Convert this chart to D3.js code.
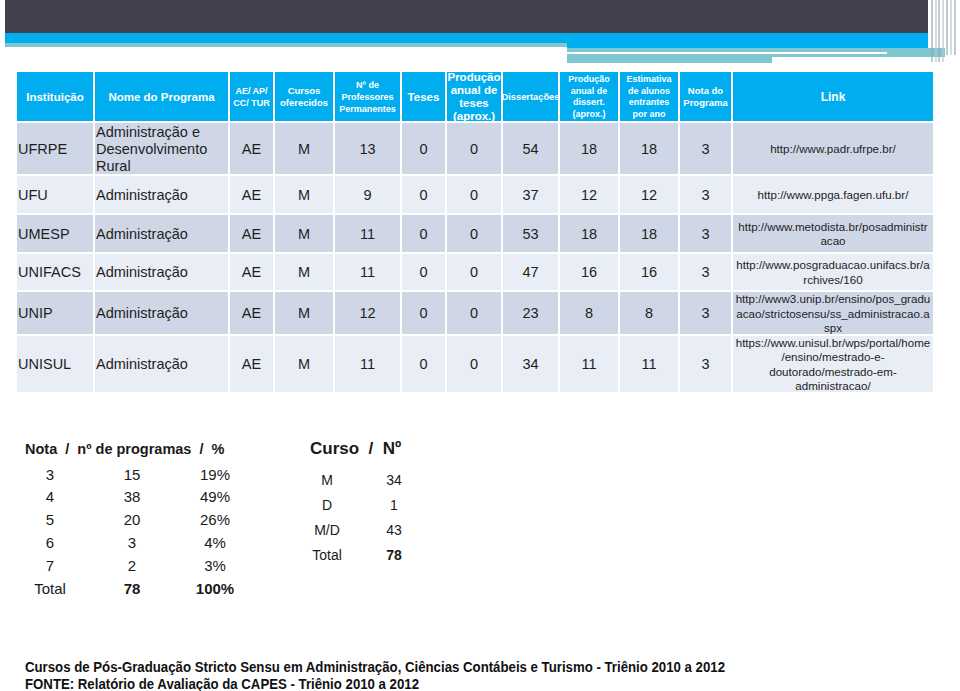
<!DOCTYPE html>
<html><head><meta charset="utf-8">
<script src="https://cdn.jsdelivr.net/npm/d3@7"></script>
<style>body{margin:0;background:#fff}svg{display:block;font-family:"Liberation Sans",Arial,Helvetica,sans-serif}</style>
</head><body><div id="chart"></div>
<script>
// ---------- data ----------
const instituicoes = ["UFRPE","UFU","UMESP","UNIFACS","UNIP","UNISUL"];
const programas = [["Administração e","Desenvolvimento","Rural"],["Administração"],["Administração"],["Administração"],["Administração"],["Administração"]];
const areas = ["AE","AE","AE","AE","AE","AE"];
const cursos = ["M","M","M","M","M","M"];
const professores = [13,9,11,11,12,11];
const teses = [0,0,0,0,0,0];
const prodTeses = [0,0,0,0,0,0];
const dissertacoes = [54,37,53,47,23,34];
const prodDissert = [18,12,18,16,8,11];
const alunosEntrantes = [18,12,18,16,8,11];
const notaPrograma = [3,3,3,3,3,3];
const links = [
  ["http://www.padr.ufrpe.br/"],
  ["http://www.ppga.fagen.ufu.br/"],
  ["http://www.metodista.br/posadministr","acao"],
  ["http://www.posgraduacao.unifacs.br/a","rchives/160"],
  ["http://www3.unip.br/ensino/pos_gradu","acao/strictosensu/ss_administracao.a","spx"],
  ["https://www.unisul.br/wps/portal/home","/ensino/mestrado-e-","doutorado/mestrado-em-","administracao/"]
];
const headers = [["Instituição"],["Nome do Programa"],["AE/ AP/","CC/ TUR"],["Cursos","oferecidos"],["Nº de","Professores","Permanentes"],["Teses"],["Produção","anual de","teses","(aprox.)"],["Dissertações"],["Produção","anual de","dissert.","(aprox.)"],["Estimativa","de alunos","entrantes","por ano"],["Nota do","Programa"],["Link"]];
const notas = ["3","4","5","6","7"];
const notaProgramas = ["15","38","20","3","2"];
const notaPct = ["19%","49%","26%","4%","3%"];
const notaTotalLabel = "Total";
const notaTotalProg = "78";
const notaTotalPct = "100%";
const cursoTipos = ["M","D","M/D"];
const cursoNum = ["34","1","43"];
const cursoTotalLabel = "Total";
const cursoTotal = "78";
const titleNota = "Nota  /  nº de programas  /  %";
const titleCurso = "Curso  /  Nº";
const footer = ["Cursos de Pós-Graduação Stricto Sensu em Administração, Ciências Contábeis e Turismo - Triênio 2010 a 2012",
                "FONTE: Relatório de Avaliação da CAPES - Triênio 2010 a 2012"];

// ---------- layout ----------
const W = 960, H = 691;
const svg = d3.select("#chart").append("svg").attr("width", W).attr("height", H);

// top decoration
const deco = svg.append("g");
deco.append("rect").attr("x",5).attr("y",0).attr("width",923).attr("height",33).attr("fill","#42424f");
deco.append("rect").attr("x",5).attr("y",33).attr("width",923).attr("height",10).attr("fill","#00aeef");
deco.append("rect").attr("x",567).attr("y",43).attr("width",361).attr("height",5).attr("fill","#00aeef");
deco.append("rect").attr("x",5).attr("y",43).attr("width",562).attr("height",4).attr("fill","#80c6d1");
deco.append("rect").attr("x",567).attr("y",48).attr("width",378).attr("height",9).attr("fill","#80c6d1");
deco.append("rect").attr("x",567).attr("y",52).attr("width",320).attr("height",2).attr("fill","#ffffff");
deco.append("rect").attr("x",567).attr("y",57).attr("width",205).attr("height",6).attr("fill","#80c6d1");
[931,935,938,942,946,950,954].forEach((x,i)=>{
  deco.append("rect").attr("x",x).attr("y",0).attr("width",2).attr("height",i<4?62:55)
    .attr("fill", i%2 ? "#b8c4cc" : "#9aa6b0").attr("opacity",0.6);
});

// table scales
const colEdges = [17,95,230,275,335,402,447,503,560,620,680,733,935];
const rowEdges = [72,123,176,215,254,292,336,394];
const xe = d3.scaleOrdinal(d3.range(colEdges.length), colEdges);
const ye = d3.scaleOrdinal(d3.range(rowEdges.length), rowEdges);
const nCols = colEdges.length - 1;
const nRows = rowEdges.length - 1;
const colX0 = c => xe(c), colW = c => xe(c+1) - xe(c) - 2, colCx = c => xe(c) + colW(c)/2;
const rowY0 = r => ye(r), rowH = r => ye(r+1) - ye(r) - 2, rowCy = r => ye(r) + rowH(r)/2;

const fillScale = d3.scaleOrdinal([0,1], ["#cfd7e7","#e9edf5"]);

// cells
const table = svg.append("g");
for (let r = 0; r < nRows; r++) {
  for (let c = 0; c < nCols; c++) {
    table.append("rect").attr("x", colX0(c)).attr("y", rowY0(r))
      .attr("width", colW(c)).attr("height", rowH(r))
      .attr("fill", r === 0 ? "#00aeef" : fillScale((r-1) % 2));
  }
}

// header text
const hStyle = [
  {fs:11.5, lh:13},{fs:11.5, lh:13},{fs:9, lh:12},{fs:9.5, lh:12},{fs:9, lh:12},{fs:11.5, lh:13},
  {fs:11.5, lh:13},{fs:9.3, lh:12},{fs:9, lh:11.6},{fs:9, lh:11.8},{fs:9.5, lh:12},{fs:12, lh:13}
];
const defs = svg.append("defs");
headers.forEach((lines, c) => {
  defs.append("clipPath").attr("id","hc"+c).append("rect")
    .attr("x", colX0(c)-4).attr("y", rowY0(0)).attr("width", colW(c)+8).attr("height", rowH(0));
  const cy = rowCy(0);
  const g = table.append("g").attr("clip-path","url(#hc"+c+")");
  lines.forEach((t, i) => {
    g.append("text").attr("x", colCx(c))
      .attr("y", cy + (i - (lines.length-1)/2) * hStyle[c].lh)
      .attr("text-anchor","middle").attr("dominant-baseline","central")
      .attr("font-size", hStyle[c].fs).attr("font-weight","bold").attr("fill","#ffffff").text(t);
  });
});

// body
const bodyFs = 14.5;
function cellText(r, c, lines, opts) {
  const cy = rowCy(r);
  lines.forEach((t, i) => {
    table.append("text")
      .attr("x", opts.left ? colX0(c) + 1 : colCx(c))
      .attr("y", cy + (i - (lines.length-1)/2) * opts.lh)
      .attr("text-anchor", opts.left ? "start" : "middle")
      .attr("dominant-baseline","central")
      .attr("font-size", opts.fs).attr("fill", "#1e1e1e").text(t);
  });
}
instituicoes.forEach((inst, i) => {
  const r = i + 1;
  cellText(r, 0, [inst], {left:true, fs:bodyFs, lh:17});
  cellText(r, 1, programas[i], {left:true, fs:bodyFs, lh:17});
  [areas[i], cursos[i], professores[i], teses[i], prodTeses[i], dissertacoes[i], prodDissert[i], alunosEntrantes[i], notaPrograma[i]]
    .forEach((v, k) => cellText(r, k + 2, [String(v)], {fs:bodyFs, lh:17}));
  cellText(r, 11, links[i], {fs:11.6, lh:14.5});
});

// ---------- lower tables ----------
const low = svg.append("g").attr("fill","#1a1a1a");
low.append("text").attr("x",25).attr("y",449).attr("dominant-baseline","central")
  .attr("font-size",14.5).attr("font-weight","bold").style("white-space","pre").text(titleNota);

const notaRows = notas.concat([notaTotalLabel]);
const yNota = d3.scalePoint().domain(d3.range(notaRows.length)).range([474, 588]);
const xNota = d3.scaleOrdinal([0,1,2], [50,132,215]);
notaRows.forEach((n, i) => {
  const isTot = i === notaRows.length - 1;
  const vals = isTot ? [notaTotalLabel, notaTotalProg, notaTotalPct] : [notas[i], notaProgramas[i], notaPct[i]];
  vals.forEach((v, k) => {
    low.append("text").attr("x", xNota(k)).attr("y", yNota(i))
      .attr("text-anchor","middle").attr("dominant-baseline","central")
      .attr("font-size",15).attr("font-weight", isTot && k > 0 ? "bold" : "normal").text(v);
  });
});

low.append("text").attr("x",310).attr("y",448).attr("dominant-baseline","central")
  .attr("font-size",17).attr("font-weight","bold").style("white-space","pre").text(titleCurso);
const cursoRows = cursoTipos.concat([cursoTotalLabel]);
const yCurso = d3.scalePoint().domain(d3.range(cursoRows.length)).range([480, 555]);
const xCurso = d3.scaleOrdinal([0,1], [327,394]);
cursoRows.forEach((n, i) => {
  const isTot = i === cursoRows.length - 1;
  const vals = isTot ? [cursoTotalLabel, cursoTotal] : [cursoTipos[i], cursoNum[i]];
  vals.forEach((v, k) => {
    low.append("text").attr("x", xCurso(k)).attr("y", yCurso(i))
      .attr("text-anchor","middle").attr("dominant-baseline","central")
      .attr("font-size",14).attr("font-weight", isTot && k > 0 ? "bold" : "normal").text(v);
  });
});

// footer
const fLen = [700, 394];
footer.forEach((t, i) => {
  svg.append("text").attr("x",25).attr("y", 667 + i*17).attr("dominant-baseline","central")
    .attr("font-size",14).attr("font-weight","bold").attr("fill","#111")
    .attr("textLength", fLen[i]).attr("lengthAdjust","spacingAndGlyphs").text(t);
});
</script></body></html>
